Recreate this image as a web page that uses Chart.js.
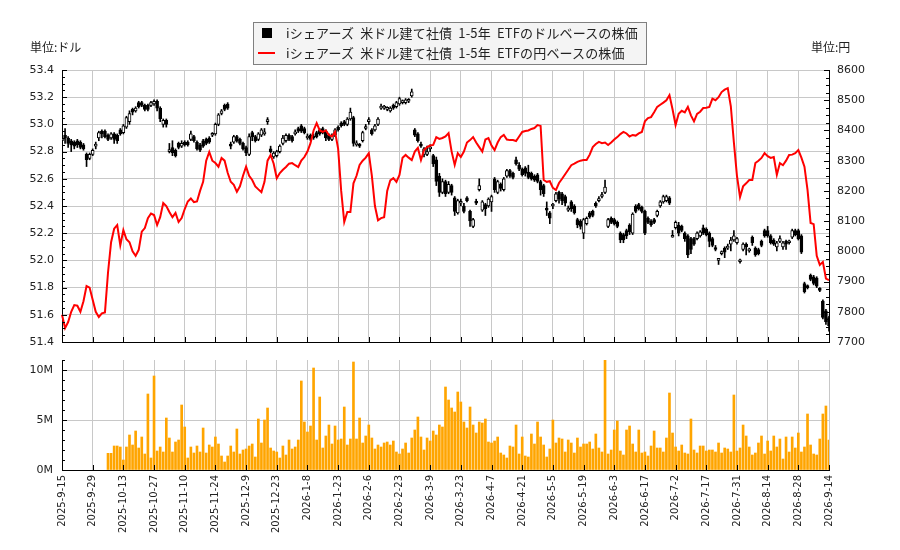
<!DOCTYPE html>
<html lang="ja">
<head>
<meta charset="utf-8">
<title>iシェアーズ 米ドル建て社債 1-5年 ETF</title>
<script src="https://cdn.jsdelivr.net/npm/chart.js@4.4.1/dist/chart.umd.min.js"></script>
<style>
  body { margin: 0; background: #fff; }
  #wrap { position: relative; width: 900px; height: 550px; overflow: hidden; background: #fff;
          font-family: "Noto Sans CJK JP", "DejaVu Sans", sans-serif; color: #222; }
  .box { position: absolute; left: 0; width: 900px; }
  #priceBox { top: 0; height: 350px; }
  #volumeBox { top: 350px; height: 200px; }
  .unit { position: absolute; top: 38px; font-size: 12px; line-height: 18px; white-space: nowrap; }
  #legend { position: absolute; left: 253px; top: 22px; width: 394px; height: 43px; box-sizing: border-box;
            border: 1px solid #808080; background: #f4f4f4; font-size: 13px; }
  .row { position: absolute; left: 0; width: 100%; height: 20px; line-height: 20px; white-space: pre; }
  .row .txt { position: absolute; left: 32px; top: 0; letter-spacing: 0.15px; }
  .sq { position: absolute; left: 8px; top: 5px; width: 10px; height: 10px; background: #000; }
  .ln { position: absolute; left: 4px; top: 9px; width: 17px; height: 2px; background: #f00; }
</style>
</head>
<body>
<div id="wrap">
  <div class="box" id="priceBox"><canvas id="priceChart"></canvas></div>
  <div class="box" id="volumeBox"><canvas id="volumeChart"></canvas></div>
  <div class="unit" style="left:30px">単位:ドル</div>
  <div class="unit" style="left:811px">単位:円</div>
  <div id="legend">
    <div class="row" style="top:0"><span class="sq"></span><span class="txt">iシェアーズ  米ドル建て社債  1-5年  ETFのドルベースの株価</span></div>
    <div class="row" style="top:20px"><span class="ln"></span><span class="txt">iシェアーズ  米ドル建て社債  1-5年  ETFの円ベースの株価</span></div>
  </div>
</div>
<script>
'use strict';

// x axis labels, one every 10 trading days
const tickLabels = ['2025-9-15','2025-9-29','2025-10-13','2025-10-27','2025-11-10','2025-11-24',
  '2025-12-9','2025-12-23','2026-1-8','2026-1-23','2026-2-6','2026-2-23','2026-3-9','2026-3-23',
  '2026-4-7','2026-4-21','2026-5-5','2026-5-19','2026-6-3','2026-6-17','2026-7-2','2026-7-17',
  '2026-7-31','2026-8-14','2026-8-28','2026-9-14'];

// dollar price candles (open / close / high / low)
const openUsd = [
  52.88,52.92,52.90,52.88,52.87,52.88,52.87,52.85,52.78,52.75,
  52.78,52.84,52.90,52.95,52.95,52.92,52.90,52.93,52.92,52.96,
  52.94,52.98,53.02,53.11,53.10,53.16,53.16,53.14,53.14,53.14,
  53.15,53.17,53.12,53.00,53.03,52.80,52.83,52.81,52.86,52.84,
  52.87,52.87,52.89,52.91,52.87,52.85,52.88,52.89,52.90,52.92,
  52.93,53.00,53.08,53.14,53.15,52.85,52.87,52.91,52.89,52.86,
  52.83,52.78,52.94,52.91,52.89,52.92,52.93,53.02,52.82,52.76,
  52.77,52.80,52.86,52.88,52.92,52.91,52.93,52.97,52.99,52.97,
  52.90,52.92,52.91,52.94,52.96,52.97,52.95,52.92,52.89,52.92,
  52.98,53.01,53.02,53.00,53.04,53.05,52.85,52.85,52.88,52.97,
  53.02,52.96,52.96,53.00,53.12,53.12,53.11,53.10,53.14,53.13,
  53.15,53.16,53.16,53.17,53.21,52.96,52.93,52.85,52.78,52.78,
  52.82,52.77,52.74,52.62,52.50,52.58,52.50,52.55,52.46,52.35,
  52.42,52.40,52.46,52.36,52.25,52.43,52.52,52.37,52.41,52.40,
  52.43,52.60,52.50,52.56,52.52,52.62,52.66,52.64,52.74,52.70,
  52.67,52.68,52.65,52.64,52.62,52.63,52.58,52.55,52.38,52.35,
  52.40,52.44,52.50,52.49,52.47,52.37,52.43,52.40,52.30,52.29,
  52.20,52.27,52.35,52.36,52.42,52.44,52.47,52.50,52.25,52.31,
  52.30,52.28,52.20,52.19,52.22,52.26,52.20,52.40,52.41,52.39,
  52.36,52.31,52.29,52.30,52.33,52.40,52.43,52.44,52.46,52.17,
  52.24,52.26,52.25,52.20,52.18,52.16,52.16,52.16,52.18,52.24,
  52.23,52.20,52.16,52.09,52.00,52.05,52.09,52.09,52.12,52.15,
  52.13,51.99,52.08,52.12,52.07,52.17,52.09,52.08,52.14,52.22,
  52.22,52.18,52.15,52.10,52.14,52.10,52.14,52.13,52.17,52.22,
  52.22,52.18,51.83,51.81,51.89,51.88,51.87,51.79,51.70,51.63,51.58];

const closeUsd = [
  52.89,52.90,52.86,52.85,52.84,52.85,52.83,52.82,52.74,52.78,
  52.81,52.85,52.94,52.93,52.91,52.89,52.93,52.89,52.88,52.93,
  52.99,53.05,53.08,53.09,53.12,53.13,53.14,53.11,53.11,53.16,
  53.17,53.12,53.04,53.03,53.00,52.81,52.79,52.77,52.83,52.86,
  52.85,52.85,52.93,52.88,52.82,52.81,52.84,52.86,52.87,52.93,
  53.00,53.07,53.10,53.11,53.12,52.84,52.91,52.88,52.86,52.82,
  52.79,52.91,52.91,52.88,52.93,52.96,52.94,53.03,52.80,52.79,
  52.80,52.84,52.90,52.92,52.89,52.88,52.94,52.95,52.95,52.94,
  52.91,52.89,52.90,52.91,52.93,52.94,52.90,52.89,52.92,52.96,
  52.96,52.99,53.00,53.04,53.09,52.86,52.86,52.84,52.94,52.98,
  53.03,52.93,52.99,53.04,53.13,53.13,53.12,53.12,53.12,53.16,
  53.19,53.17,53.18,53.18,53.24,52.92,52.88,52.84,52.82,52.80,
  52.83,52.71,52.58,52.50,52.58,52.49,52.56,52.50,52.36,52.44,
  52.43,52.36,52.44,52.29,52.30,52.42,52.55,52.43,52.38,52.45,
  52.47,52.52,52.58,52.53,52.60,52.66,52.62,52.61,52.71,52.67,
  52.63,52.64,52.61,52.60,52.59,52.58,52.52,52.49,52.37,52.31,
  52.41,52.49,52.45,52.44,52.42,52.38,52.38,52.35,52.26,52.25,
  52.30,52.31,52.32,52.33,52.40,52.45,52.48,52.54,52.30,52.28,
  52.27,52.25,52.15,52.15,52.18,52.21,52.34,52.36,52.38,52.36,
  52.20,52.28,52.26,52.28,52.36,52.43,52.47,52.47,52.42,52.18,
  52.28,52.20,52.22,52.16,52.04,52.08,52.12,52.20,52.21,52.20,
  52.19,52.14,52.11,52.08,52.01,52.06,52.06,52.10,52.15,52.18,
  52.16,52.00,52.12,52.10,52.08,52.13,52.04,52.05,52.11,52.18,
  52.18,52.13,52.12,52.13,52.16,52.13,52.12,52.14,52.22,52.19,
  52.16,52.06,51.77,51.80,51.86,51.83,51.81,51.78,51.58,51.55,51.52];

const highUsd = [
  52.90,52.97,52.91,52.89,52.88,52.89,52.88,52.86,52.79,52.79,
  52.82,52.87,52.95,52.96,52.96,52.93,52.94,52.94,52.93,52.97,
  53.00,53.06,53.10,53.12,53.13,53.17,53.17,53.15,53.15,53.17,
  53.18,53.18,53.13,53.04,53.04,52.86,52.88,52.82,52.87,52.88,
  52.88,52.88,52.95,52.92,52.88,52.86,52.89,52.90,52.91,52.94,
  53.01,53.08,53.11,53.15,53.16,52.87,52.92,52.92,52.90,52.87,
  52.84,52.93,52.95,52.92,52.94,52.97,52.97,53.05,52.84,52.80,
  52.81,52.85,52.92,52.93,52.93,52.92,52.96,52.98,53.00,52.98,
  52.93,52.93,52.93,52.95,52.97,52.98,52.96,52.93,52.93,52.97,
  52.99,53.02,53.03,53.05,53.12,53.06,52.88,52.86,52.95,53.00,
  53.05,52.97,53.00,53.05,53.15,53.14,53.13,53.13,53.15,53.17,
  53.20,53.18,53.19,53.19,53.26,52.97,52.94,52.87,52.83,52.84,
  52.85,52.78,52.76,52.64,52.60,52.59,52.58,52.56,52.47,52.45,
  52.45,52.42,52.47,52.37,52.31,52.45,52.60,52.44,52.42,52.46,
  52.48,52.61,52.59,52.57,52.61,52.67,52.67,52.65,52.76,52.72,
  52.68,52.69,52.70,52.65,52.63,52.64,52.59,52.56,52.43,52.36,
  52.42,52.50,52.51,52.50,52.48,52.40,52.44,52.41,52.31,52.30,
  52.31,52.32,52.36,52.37,52.43,52.47,52.50,52.59,52.31,52.32,
  52.31,52.29,52.21,52.20,52.23,52.27,52.35,52.41,52.42,52.40,
  52.37,52.32,52.30,52.31,52.37,52.44,52.48,52.48,52.47,52.22,
  52.29,52.28,52.26,52.21,52.19,52.17,52.17,52.21,52.22,52.26,
  52.24,52.21,52.17,52.11,52.01,52.07,52.10,52.12,52.17,52.22,
  52.17,52.01,52.13,52.13,52.09,52.18,52.10,52.09,52.15,52.23,
  52.25,52.19,52.16,52.14,52.18,52.14,52.15,52.15,52.23,52.23,
  52.23,52.19,51.84,51.82,51.90,51.89,51.88,51.80,51.71,51.64,51.59];

const lowUsd = [
  52.87,52.86,52.83,52.80,52.82,52.83,52.82,52.81,52.69,52.74,
  52.77,52.82,52.88,52.90,52.90,52.88,52.89,52.86,52.86,52.92,
  52.93,52.97,53.00,53.07,53.09,53.12,53.13,53.10,53.10,53.13,
  53.14,53.10,53.02,52.98,52.98,52.79,52.77,52.76,52.82,52.83,
  52.84,52.84,52.88,52.87,52.81,52.80,52.83,52.85,52.86,52.91,
  52.92,52.99,53.07,53.10,53.11,52.82,52.86,52.87,52.85,52.81,
  52.77,52.77,52.88,52.87,52.88,52.91,52.92,53.00,52.79,52.75,
  52.76,52.79,52.85,52.87,52.88,52.87,52.92,52.94,52.94,52.93,
  52.89,52.88,52.89,52.90,52.92,52.93,52.88,52.88,52.88,52.91,
  52.95,52.98,52.99,52.99,53.03,52.84,52.84,52.83,52.87,52.96,
  53.00,52.92,52.95,52.99,53.11,53.11,53.10,53.09,53.11,53.12,
  53.14,53.15,53.15,53.16,53.20,52.91,52.87,52.83,52.76,52.77,
  52.80,52.69,52.55,52.47,52.49,52.47,52.49,52.48,52.33,52.34,
  52.40,52.35,52.43,52.25,52.24,52.41,52.51,52.36,52.33,52.39,
  52.36,52.50,52.49,52.51,52.51,52.61,52.61,52.60,52.70,52.66,
  52.62,52.62,52.60,52.59,52.58,52.57,52.48,52.47,52.33,52.27,
  52.38,52.43,52.42,52.41,52.40,52.36,52.36,52.34,52.24,52.23,
  52.16,52.26,52.31,52.32,52.39,52.43,52.46,52.49,52.24,52.27,
  52.26,52.24,52.13,52.13,52.16,52.19,52.19,52.35,52.37,52.35,
  52.19,52.27,52.25,52.27,52.32,52.39,52.42,52.43,52.41,52.17,
  52.23,52.18,52.21,52.14,52.02,52.05,52.11,52.15,52.17,52.19,
  52.18,52.10,52.10,52.07,51.97,52.04,52.02,52.08,52.07,52.14,
  52.12,51.98,52.07,52.04,52.06,52.11,52.03,52.04,52.10,52.17,
  52.17,52.12,52.11,52.07,52.13,52.08,52.08,52.12,52.16,52.18,
  52.15,52.05,51.76,51.79,51.85,51.82,51.80,51.77,51.57,51.53,51.48];

// yen price (close)
const closeJpy = [
  7790,7746,7766,7800,7822,7820,7800,7835,7885,7880,
  7840,7800,7783,7795,7798,7930,8030,8075,8087,8020,
  8070,8040,8030,8000,7985,8005,8065,8077,8110,8125,
  8120,8087,8113,8160,8150,8130,8113,8127,8097,8110,
  8140,8165,8175,8163,8165,8200,8230,8300,8329,8300,
  8292,8280,8309,8300,8260,8230,8220,8197,8215,8250,
  8280,8250,8236,8215,8205,8196,8230,8300,8319,8290,
  8242,8259,8270,8279,8290,8292,8285,8279,8300,8312,
  8330,8358,8400,8424,8400,8395,8400,8385,8380,8395,
  8340,8200,8097,8130,8130,8225,8250,8286,8300,8310,
  8325,8250,8150,8103,8110,8113,8200,8235,8242,8230,
  8253,8310,8319,8310,8302,8330,8342,8302,8335,8345,
  8350,8352,8378,8372,8375,8380,8391,8330,8286,8325,
  8312,8330,8360,8368,8378,8360,8345,8330,8370,8375,
  8350,8335,8360,8378,8385,8370,8368,8368,8365,8380,
  8395,8398,8400,8405,8408,8418,8415,8236,8230,8232,
  8210,8203,8226,8240,8255,8270,8285,8290,8296,8300,
  8302,8302,8320,8345,8355,8362,8358,8360,8352,8360,
  8370,8378,8388,8395,8390,8380,8385,8383,8390,8395,
  8430,8441,8444,8460,8478,8485,8492,8500,8517,8470,
  8418,8455,8465,8460,8478,8450,8430,8455,8462,8474,
  8475,8478,8505,8500,8510,8527,8535,8540,8480,8360,
  8250,8180,8215,8225,8236,8236,8292,8300,8309,8325,
  8315,8309,8312,8253,8292,8285,8300,8319,8320,8325,
  8335,8310,8280,8203,8094,8090,7985,7955,7965,7910,7905];

// volume, millions of shares (no data for the first 15 days)
const volumeM = [
  null,null,null,null,null,null,null,null,null,null,
  null,null,null,null,null,1.67,1.67,2.4,2.4,2.3,
  1.0,2.3,3.5,2.5,3.9,2.2,3.3,1.6,7.6,1.2,
  9.4,1.9,2.3,1.8,5.2,3.2,1.8,2.8,3.0,6.5,
  4.3,1.2,2.3,1.7,2.4,1.8,4.2,1.7,2.5,2.3,
  3.3,2.6,1.4,0.8,1.4,2.4,1.8,4.1,1.6,2.0,
  2.1,2.4,2.6,1.3,5.1,2.7,5.0,6.2,2.2,1.9,
  1.8,1.2,2.4,1.5,3.0,2.1,2.3,3.0,8.9,4.8,
  3.8,4.4,10.2,3.0,7.3,2.2,3.4,4.5,2.6,4.4,
  3.0,3.1,6.3,2.5,3.1,10.8,3.1,5.2,2.7,3.4,
  4.5,3.2,2.1,2.5,2.3,2.7,2.8,2.5,2.9,1.8,
  1.6,2.1,2.7,1.7,3.2,4.0,5.3,3.3,2.0,3.2,
  2.9,3.9,3.5,4.5,4.3,8.3,7.0,6.2,5.8,7.8,
  6.8,4.8,4.2,6.3,4.5,3.7,4.8,4.7,5.1,2.8,
  2.7,2.9,3.3,1.7,1.5,1.2,2.4,2.3,4.5,1.6,
  3.3,1.4,1.3,3.6,2.6,4.8,3.3,2.5,1.3,2.1,
  5.0,2.7,3.2,3.1,1.8,3.0,2.7,1.7,3.2,2.3,
  2.6,2.6,2.8,2.1,3.6,2.2,1.8,11.0,1.6,2.0,
  4.0,4.9,1.9,1.5,4.0,4.4,2.6,1.8,4.0,1.7,
  1.8,1.4,2.4,3.9,2.2,2.2,1.8,3.2,7.7,3.7,
  2.3,1.9,2.5,1.7,1.6,5.1,2.0,1.7,2.4,2.4,
  1.9,2.0,2.0,1.8,2.7,1.7,2.2,2.1,1.8,7.5,
  1.9,2.2,4.5,3.4,2.3,1.5,1.7,2.7,3.4,1.6,
  2.9,1.9,3.4,2.3,3.1,1.1,3.3,1.8,3.3,2.2,
  3.7,1.8,2.3,5.6,2.5,1.6,1.5,3.1,5.6,6.4,3.0];

const dayIndex = closeUsd.map((v, i) => i);
const gridColor = '#c8c8c8';
const tickFont = { family: 'DejaVu Sans', size: 11 };

// small inward tick marks, like the original plot
const innerTicks = {
  id: 'innerTicks',
  afterDraw(chart, args, opts) {
    const ctx = chart.ctx;
    const area = chart.chartArea;
    ctx.save();
    ctx.strokeStyle = '#000';
    ctx.lineWidth = 1;
    ctx.beginPath();
    (opts.y || []).forEach(t => {
      const s = chart.scales[t.id];
      const n = Math.round((s.max - s.min) / t.minor);
      const px = t.side === 'left' ? area.left : area.right;
      const dir = t.side === 'left' ? 1 : -1;
      for (let k = 0; k <= n; k++) {
        const py = Math.round(s.getPixelForValue(s.min + k * t.minor)) + 0.5;
        const len = k % t.every === 0 ? 5 : 3;
        ctx.moveTo(px, py);
        ctx.lineTo(px + dir * len, py);
      }
    });
    if (opts.x) {
      const s = chart.scales.x;
      for (let i = 0; i < dayIndex.length; i += 10) {
        const px = Math.round(s.getPixelForValue(i)) + 0.5;
        ctx.moveTo(px, area.bottom);
        ctx.lineTo(px, area.bottom - 5);
      }
    }
    ctx.stroke();
    ctx.restore();
  }
};

// fixed axis width, and no extra room for the end labels
const fixWidth = w => s => {
  s.width = w;
  s.paddingTop = 0;
  s.paddingBottom = 0;
};

const xGrid = {
  color: c => (c.index % 10 === 0 ? gridColor : 'rgba(0,0,0,0)'),
  offset: false,
  drawTicks: false
};

// price chart: candles on the dollar axis, yen line on the right axis
new Chart(document.getElementById('priceChart'), {
  type: 'bar',
  data: {
    labels: dayIndex,
    datasets: [
      {
        type: 'line',
        label: 'yen',
        data: closeJpy,
        yAxisID: 'y1',
        borderColor: '#ff0000',
        borderWidth: 2,
        pointRadius: 0,
        tension: 0,
        order: 0
      },
      {
        label: 'body',
        data: openUsd.map((o, i) => [o, closeUsd[i]]),
        yAxisID: 'y',
        backgroundColor: openUsd.map((o, i) => (closeUsd[i] >= o ? '#ffffff' : '#000000')),
        borderColor: '#000000',
        borderWidth: 1,
        borderSkipped: false,
        barThickness: 3,
        minBarLength: 2,
        grouped: false,
        order: 1
      },
      {
        label: 'wick',
        data: lowUsd.map((l, i) => [l, highUsd[i]]),
        yAxisID: 'y',
        backgroundColor: '#000000',
        borderWidth: 0,
        barThickness: 1,
        grouped: false,
        order: 2
      }
    ]
  },
  options: {
    responsive: true,
    maintainAspectRatio: false,
    animation: false,
    layout: { padding: { top: 70, bottom: 8, left: 0, right: 0 } },
    plugins: {
      legend: { display: false },
      tooltip: { enabled: false },
      innerTicks: {
        x: true,
        y: [
          { id: 'y', side: 'left', minor: 0.05, every: 4 },
          { id: 'y1', side: 'right', minor: 25, every: 4 }
        ]
      }
    },
    scales: {
      x: {
        offset: false,
        grid: xGrid,
        border: { color: '#000' },
        ticks: { display: false, autoSkip: false },
        afterFit: s => { s.height = 0; }
      },
      y: {
        position: 'left',
        min: 51.4,
        max: 53.4,
        ticks: { stepSize: 0.2, color: '#222', font: tickFont, padding: 8,
                 callback: v => v.toFixed(1) },
        grid: { color: gridColor, drawTicks: false },
        border: { color: '#000' },
        afterFit: fixWidth(62)
      },
      y1: {
        position: 'right',
        min: 7700,
        max: 8600,
        ticks: { stepSize: 100, color: '#222', font: tickFont, padding: 8,
                 callback: v => String(v) },
        grid: { drawOnChartArea: false, drawTicks: false },
        border: { color: '#000' },
        afterFit: fixWidth(71)
      }
    }
  },
  plugins: [innerTicks]
});

// volume chart
new Chart(document.getElementById('volumeChart'), {
  type: 'bar',
  data: {
    labels: dayIndex,
    datasets: [{
      label: 'volume',
      data: volumeM,
      backgroundColor: '#ffa500',
      barThickness: 2
    }]
  },
  options: {
    responsive: true,
    maintainAspectRatio: false,
    animation: false,
    layout: { padding: { top: 10, bottom: 0, left: 0, right: 71 } },
    plugins: {
      legend: { display: false },
      tooltip: { enabled: false },
      innerTicks: { x: true, y: [{ id: 'y', side: 'left', minor: 1, every: 5 }] }
    },
    scales: {
      x: {
        offset: false,
        grid: xGrid,
        border: { color: '#000' },
        ticks: {
          autoSkip: false,
          minRotation: 90,
          maxRotation: 90,
          padding: 5,
          color: '#222',
          font: { family: 'DejaVu Sans', size: 10 },
          callback: (value, index) => (index % 10 === 0 ? tickLabels[index / 10] : '')
        },
        afterFit: s => { s.height = 80; }
      },
      y: {
        min: 0,
        max: 11,
        ticks: { stepSize: 5, includeBounds: false, color: '#222', font: tickFont, padding: 9,
                 callback: v => v + 'M' },
        grid: { color: gridColor, drawTicks: false },
        border: { color: '#000' },
        afterFit: fixWidth(62)
      }
    }
  },
  plugins: [innerTicks]
});
</script>
</body>
</html>
